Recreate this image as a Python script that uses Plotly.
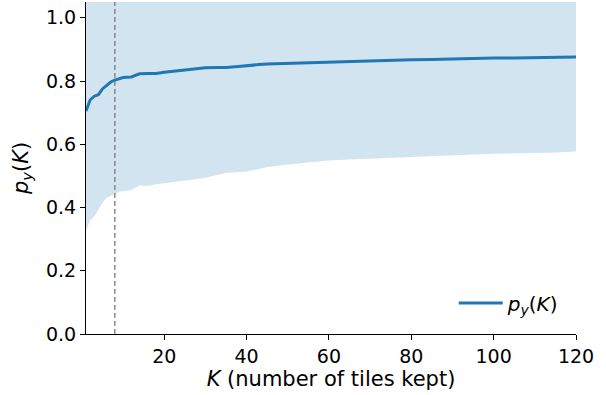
import plotly.graph_objects as go

K = [1, 2, 3, 4, 5, 6, 7, 8, 9, 10, 12, 14, 16, 18, 20, 22, 25, 28, 30, 33, 35, 38,
     40, 43, 45, 50, 55, 60, 65, 70, 75, 80, 85, 90, 95, 100, 105, 110, 115, 120]
mean = [0.705, 0.740, 0.752, 0.757, 0.775, 0.787, 0.797, 0.803, 0.808, 0.811, 0.813, 0.823,
        0.824, 0.824, 0.828, 0.831, 0.835, 0.839, 0.842, 0.843, 0.843, 0.846,
        0.849, 0.852, 0.854, 0.856, 0.858, 0.861, 0.862, 0.864, 0.865, 0.867, 0.868, 0.870,
        0.871, 0.873, 0.873, 0.874, 0.875, 0.876]
lower = [0.325, 0.360, 0.372, 0.392, 0.415, 0.430, 0.437, 0.443, 0.450, 0.452, 0.455, 0.470,
         0.468, 0.474, 0.477, 0.480, 0.484, 0.490, 0.494, 0.502, 0.509, 0.512,
         0.514, 0.522, 0.528, 0.536, 0.543, 0.549, 0.552, 0.555, 0.557, 0.559, 0.562, 0.565,
         0.568, 0.570, 0.571, 0.572, 0.574, 0.577]
upper = [1.09, 1.12, 1.13, 1.12, 1.13, 1.14, 1.15, 1.16, 1.16, 1.17, 1.17, 1.17,
         1.18, 1.17, 1.18, 1.18, 1.18, 1.19, 1.19, 1.18, 1.18, 1.18,
         1.18, 1.18, 1.18, 1.18, 1.17, 1.17, 1.17, 1.17, 1.17, 1.17, 1.17, 1.17,
         1.17, 1.18, 1.18, 1.18, 1.18, 1.18]
K_marker = 8

x_ticks = [20, 40, 60, 80, 100, 120]
y_ticks = [0.0, 0.2, 0.4, 0.6, 0.8, 1.0]

blue = "#1f77b4"
font = "DejaVu Sans"
label = "<i>p</i><sub><i>y</i></sub>(<i>K</i>)"

fig = go.Figure()
fig.add_trace(go.Scatter(x=K, y=lower, mode="lines", line=dict(width=0),
                         showlegend=False, hoverinfo="skip"))
fig.add_trace(go.Scatter(x=K, y=upper, mode="lines", line=dict(width=0),
                         fill="tonexty", fillcolor="rgba(31,119,180,0.2)",
                         showlegend=False, hoverinfo="skip"))
fig.add_trace(go.Scatter(x=K, y=mean, mode="lines", line=dict(color=blue, width=3),
                         name=label))

fig.add_shape(type="line", x0=K_marker, x1=K_marker, y0=0, y1=1, xref="x", yref="paper",
              line=dict(color="rgba(128,128,128,0.9)", width=1.5, dash="5px,3px"))

fig.update_layout(
    width=606, height=395,
    margin=dict(l=86, r=30, t=2, b=61),
    paper_bgcolor="white", plot_bgcolor="white",
    font=dict(family=font, size=18, color="black"),
    showlegend=True,
    legend=dict(x=0.975, y=0.035, xanchor="right", yanchor="bottom", itemwidth=44,
                bgcolor="rgba(0,0,0,0)", font=dict(size=20)),
    xaxis=dict(range=[1, 120], tickvals=x_ticks, showgrid=False, zeroline=False,
               showline=True, linecolor="black", linewidth=1.2, automargin=False,
               ticks="outside", ticklen=5, tickcolor="black", tickfont=dict(size=19),
               title=dict(text="<i>K</i> (number of tiles kept)", font=dict(size=21),
                          standoff=4)),
    yaxis=dict(range=[0, 1.05], tickvals=y_ticks, tickformat=".1f", showgrid=False,
               zeroline=False, showline=True, linecolor="black", linewidth=1.2,
               automargin=False,
               ticks="outside", ticklen=5, tickcolor="black", tickfont=dict(size=19),
               title=dict(text=label, font=dict(size=21), standoff=11)),
)

fig.write_html("out.html", config={"displayModeBar": False},
               post_script="document.body.style.margin='0';document.body.style.overflow='hidden';")
